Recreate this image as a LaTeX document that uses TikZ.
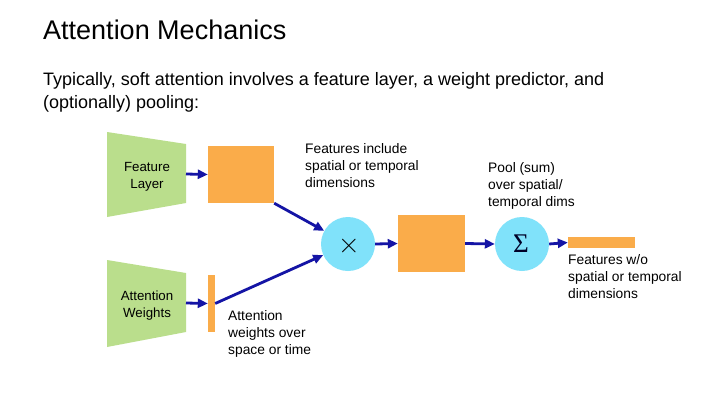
\documentclass[tikz,border=0pt]{standalone}
\usepackage{fontspec}
\setmainfont{Liberation Sans}
\newfontfamily\serifgr{Liberation Serif}
\newfontfamily\lmrom{Latin Modern Roman}
\usetikzlibrary{arrows.meta}
\definecolor{lgreen}{RGB}{186,222,140}
\definecolor{orng}{RGB}{250,172,74}
\definecolor{lcyan}{RGB}{128,226,250}
\definecolor{arrblue}{RGB}{20,20,165}
\tikzset{
  conn/.style={draw=arrblue,line width=2.8pt,-{Triangle[length=10pt,width=9pt]}},
  obox/.style={fill=orng,draw=none,inner sep=0pt,rectangle},
  opcirc/.style={circle,fill=lcyan,draw=none,minimum size=54pt,inner sep=0pt},
  lbl/.style={anchor=base west,align=left,inner sep=0pt,font=\fontsize{13.8}{16.8}\selectfont},
  trap/.style={fill=lgreen,draw=none},
  traptext/.style={anchor=base,align=center,inner sep=0pt,font=\fontsize{13.3}{16.5}\selectfont}
}
\begin{document}
\begin{tikzpicture}[x=1pt,y=-1pt]
\useasboundingbox (0,0) rectangle (720,405);
\fill[white] (0,0) rectangle (720,405);
% title
\node[anchor=base west,inner sep=0pt,font=\fontsize{27}{32}\selectfont] (title) at (43,39) {Attention Mechanics};
\node[anchor=base west,align=left,inner sep=0pt,font=\fontsize{18}{23}\selectfont] (sub) at (43,108) {Typically, soft attention involves a feature layer, a weight predictor, and\\(optionally) pooling:};
% trapezoids
\path[trap] (107,132) -- (186,144) -- (186,203) -- (107,217) -- cycle;
\path[trap] (107,260) -- (186,273) -- (186,332) -- (107,347) -- cycle;
\node[traptext] (fl) at (147,188) {Feature\\Layer};
\node[traptext] (aw) at (147,317) {Attention\\Weights};
\coordinate (flout) at (186,174);
\coordinate (awout) at (186,303);
% boxes
\node[obox,minimum width=66pt,minimum height=57pt] (fb) at (241,174.5) {};
\node[obox,minimum width=7pt,minimum height=57pt] (ab) at (211.5,303.5) {};
\node[opcirc] (mul) at (348,244) {};
\node[inner sep=0pt,font=\lmrom\fontsize{30}{30}\selectfont] (multxt) at (349,246) {×};
\node[obox,minimum width=67pt,minimum height=57pt] (mb) at (431.5,243.5) {};
\node[opcirc] (sum) at (522,244) {};
\node[inner sep=0pt,font=\serifgr\fontsize{27}{27}\selectfont,text=black!85!blue] (sumtxt) at (521,244) {Σ};
\node[obox,minimum width=67pt,minimum height=11pt] (ob) at (601.5,242.5) {};
% connectors
\draw[conn] (flout) -- (fb.west);
\draw[conn] (awout) -- (ab.west);
\draw[conn] (fb.south east) -- (mul);
\draw[conn] (ab.east) -- (mul);
\draw[conn] (mul.east) -- (mb.west);
\draw[conn] (mb.east) -- (sum.west);
\draw[conn] (sum.east) -- (ob.west);
% labels
\node[lbl] (l1) at (305,187) {Features include\\spatial or temporal\\dimensions};
\node[lbl] (l2) at (488,206) {Pool (sum)\\over spatial/\\temporal dims};
\node[lbl] (l3) at (568,298) {Features w/o\\spatial or temporal\\dimensions};
\node[lbl] (l4) at (228,354) {Attention\\weights over\\space or time};
\end{tikzpicture}
\end{document}
